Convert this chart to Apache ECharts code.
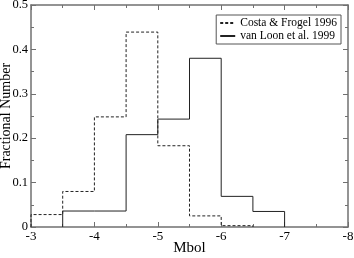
<!DOCTYPE html>
<html><head><meta charset="utf-8">
<script src="https://cdn.jsdelivr.net/npm/echarts@6/dist/echarts.min.js"></script>
<style>html,body{margin:0;padding:0;background:#fff}#c{width:354px;height:258px}</style>
</head><body><div id="c"></div>
<script>
const binEdges = [-3, -3.5, -4, -4.5, -5, -5.5, -6, -6.5, -7];
const costaFrogel = [0.028, 0.080, 0.248, 0.439, 0.183, 0.025, 0.003, 0];
const vanLoon = [0, 0.036, 0.036, 0.208, 0.243, 0.380, 0.069, 0.035];
const xTicks = [-3, -4, -5, -6, -7, -8];
const yTicks = [0, 0.1, 0.2, 0.3, 0.4, 0.5];

function stepData(vals) {
  let first = vals.findIndex(v => v > 0);
  let last = vals.length - 1;
  while (last >= 0 && vals[last] === 0) last--;
  const out = [[binEdges[first], 0]];
  for (let i = first; i <= last; i++) out.push([binEdges[i], vals[i]]);
  out.push([binEdges[last + 1], vals[last]]);
  out.push([binEdges[last + 1], 0]);
  return out;
}

const font = '"Liberation Serif", "DejaVu Serif", serif';
const axisCol = '#707070';
function xAx(show, pos) {
  return {
    type: 'value', position: pos, min: -8, max: -3, interval: 1, inverse: true,
    axisLine: { show: true, onZero: false, lineStyle: { color: axisCol, width: 1.5 } },
    axisTick: { show: true, inside: true, length: 5, lineStyle: { color: axisCol } },
    minorTick: { show: true, splitNumber: 2, length: 3, lineStyle: { color: axisCol } },
    axisLabel: { show: show, color: '#000', fontFamily: font, fontSize: 13, margin: 3,
      formatter: v => xTicks.includes(v) ? String(v) : '' },
    splitLine: { show: false },
    name: show ? 'Mbol' : '', nameLocation: 'middle', nameGap: 14, nameMoveOverlap: false,
    nameTextStyle: { fontFamily: font, fontSize: 15, color: '#000', verticalAlign: 'top' }
  };
}
function yAx(show, pos) {
  return {
    type: 'value', position: pos, min: 0, max: 0.5, interval: 0.1,
    axisLine: { show: true, onZero: false, lineStyle: { color: axisCol, width: 1.5 } },
    axisTick: { show: true, inside: true, length: 5, lineStyle: { color: axisCol } },
    minorTick: { show: true, splitNumber: 2, length: 3, lineStyle: { color: axisCol } },
    axisLabel: { show: show, color: '#000', fontFamily: font, fontSize: 12.5, margin: 3,
      formatter: v => { const t = yTicks.find(y => Math.abs(y - v) < 1e-9); return t === undefined ? '' : (t === 0 ? '0' : String(t)); } },
    splitLine: { show: false },
    name: show ? 'Fractional Number' : '', nameLocation: 'middle', nameGap: 25, nameMoveOverlap: false,
    nameTextStyle: { fontFamily: font, fontSize: 14, color: '#000', verticalAlign: 'middle' }
  };
}

const chart = echarts.init(document.getElementById('c'));
chart.setOption({
  animation: false,
  backgroundColor: '#fff',
  grid: { left: 31, right: 6, top: 5, bottom: 31, containLabel: false, outerBoundsMode: 'none' },
  xAxis: [xAx(true, 'bottom'), xAx(false, 'top')],
  yAxis: [yAx(true, 'left'), yAx(false, 'right')],
  legend: {
    right: 13, top: 15, orient: 'vertical', itemGap: 1, itemWidth: 15, itemHeight: 11,
    padding: [2, 4, 2, 3],
    borderColor: '#555', borderWidth: 1, backgroundColor: '#fff', borderRadius: 0,
    textStyle: { fontFamily: font, fontSize: 11.5, color: '#000' },
    itemStyle: { opacity: 0 },
    data: ['Costa & Frogel 1996', 'van Loon et al. 1999']
  },
  series: [
    { name: 'Costa & Frogel 1996', type: 'line', step: 'end', showSymbol: false, symbol: 'none',
      data: stepData(costaFrogel), lineStyle: { color: '#222', width: 1, type: [3, 2] }, itemStyle: { color: '#222' } },
    { name: 'van Loon et al. 1999', type: 'line', step: 'end', showSymbol: false, symbol: 'none',
      data: stepData(vanLoon), lineStyle: { color: '#222', width: 1 }, itemStyle: { color: '#222' } }
  ]
});
</script></body></html>
